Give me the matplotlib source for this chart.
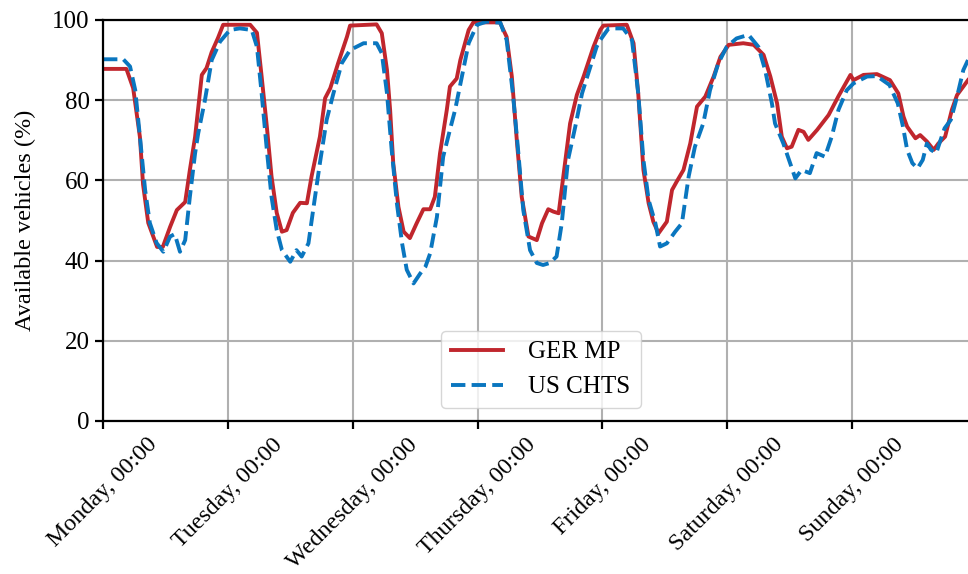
import matplotlib
matplotlib.use("Agg")
import matplotlib.pyplot as plt

# ---------- DATA (hours since Monday 00:00, available vehicles in %) ----------

ger_hours = [0, 4.5, 5.8, 7.1, 7.7, 8.7, 10.4, 11.5, 12.9, 14.2, 15.8, 16.7, 17.7, 19.0, 19.9,
             20.9, 22.1, 23.1, 28.3, 29.6, 30.5, 31.5, 32.4, 33.4, 34.4, 35.3, 36.5, 37.9,
             39.2, 40.1, 41.7, 42.7, 43.7, 45.2, 46.9, 47.5, 52.6, 53.6, 54.6, 55.2, 55.8,
             56.8, 57.8, 59.0, 60.3, 61.6, 62.9, 63.8, 64.8, 66.1, 66.7, 68.0, 68.7, 70.3,
             71.2, 76.3, 77.6, 78.6, 79.6, 80.5, 81.8, 83.4, 84.4, 85.6, 86.6, 87.6, 88.5,
             89.8, 91.1, 92.4, 94.3, 95.6, 96.2, 100.7, 102.0, 102.9, 103.9, 104.9, 105.8,
             106.8, 108.4, 109.4, 110.3, 111.6, 112.9, 114.2, 115.8, 117.4, 118.7, 120.3,
             123.1, 125.1, 127.0, 128.3, 129.6, 130.5, 131.5, 132.4, 133.7, 134.7, 135.6,
             137.3, 139.5, 141.4, 143.7, 144.3, 146.2, 148.8, 151.3, 152.9, 153.9, 154.6,
             156.2, 157.1, 158.4, 159.7, 160.6, 161.9, 163.2, 164.2, 165.4, 166.3]
ger_values = [87.8, 87.8, 83.0, 70.8, 59.0, 49.4, 43.4, 43.4, 48.4, 52.6, 54.6, 62.6, 70.8, 86.3,
              88.0, 92.0, 95.5, 98.8, 98.8, 96.8, 85.9, 73.4, 61.0, 51.9, 47.2, 47.6, 51.9,
              54.4, 54.3, 61.0, 70.9, 80.5, 83.0, 89.2, 95.8, 98.6, 98.9, 96.7, 87.5, 77.6,
              64.3, 53.4, 47.2, 45.6, 49.3, 52.8, 52.8, 55.9, 66.8, 77.6, 83.4, 85.4, 90.0,
              97.5, 99.4, 99.4, 95.8, 85.9, 69.3, 55.9, 46.0, 45.1, 49.3, 52.8, 52.2, 51.8,
              61.0, 74.2, 81.3, 85.9, 93.3, 97.5, 98.6, 98.8, 94.2, 81.7, 62.6, 54.3, 49.7,
              46.8, 49.7, 57.6, 59.7, 62.6, 69.2, 78.4, 80.9, 85.9, 90.8, 93.8, 94.2, 93.8,
              91.3, 85.9, 79.2, 70.9, 68.0, 68.4, 72.6, 72.1, 70.1, 72.6, 76.3, 81.0, 86.3,
              85.0, 86.3, 86.5, 85.0, 81.7, 75.9, 73.4, 70.5, 71.3, 69.7, 67.6, 69.2, 70.9,
              77.6, 81.3, 83.4, 85.0]

us_hours = [0, 3.9, 5.2, 6.2, 7.1, 8.1, 9.0, 10.3, 11.6, 12.9, 13.8, 14.8, 15.8, 16.7, 17.7,
            18.3, 19.6, 20.9, 22.5, 24.4, 26.3, 28.6, 29.6, 30.5, 31.5, 32.4, 33.4, 34.4, 36.0,
            37.2, 38.2, 39.5, 40.4, 41.7, 43.0, 44.3, 45.9, 47.5, 50.1, 52.6, 53.6, 54.6,
            55.5, 56.5, 57.5, 58.4, 59.7, 61.0, 62.0, 62.9, 64.2, 65.4, 66.7, 67.7, 69.0,
            70.3, 71.9, 73.8, 76.4, 77.6, 78.8, 79.8, 80.8, 82.1, 83.4, 84.6, 85.9, 87.2,
            88.2, 89.4, 90.8, 92.1, 93.3, 94.9, 95.6, 97.2, 100.0, 101.7, 102.9, 103.9, 104.9,
            106.2, 107.1, 108.4, 110.0, 111.3, 112.6, 113.8, 115.4, 116.7, 118.3, 119.9,
            121.8, 124.1, 126.0, 127.3, 128.6, 129.2, 130.8, 132.1, 133.1, 134.3, 135.9,
            137.2, 138.8, 140.1, 141.4, 143.0, 144.3, 146.9, 148.8, 151.2, 152.8, 153.8,
            154.6, 155.6, 156.6, 157.6, 158.4, 159.2, 160.2, 160.8, 161.8, 163.0, 164.2,
            165.4, 166.3]
us_values = [90.2, 90.2, 88.4, 82.5, 70.9, 57.6, 49.4, 44.4, 42.2, 46.0, 46.6, 42.2, 45.1, 55.9,
             66.7, 71.7, 80.0, 90.0, 94.6, 97.5, 97.9, 97.5, 93.3, 81.7, 67.6, 55.9, 47.6,
             42.6, 39.7, 42.6, 41.0, 44.3, 52.6, 64.3, 75.1, 81.7, 89.2, 92.5, 94.2, 94.2,
             91.7, 81.7, 67.6, 54.3, 44.3, 37.7, 34.3, 36.8, 38.5, 41.8, 50.9, 65.9, 72.6,
             77.6, 85.9, 94.2, 98.8, 99.6, 99.3, 95.0, 81.7, 67.6, 52.6, 42.6, 39.4, 38.9,
             39.4, 41.0, 49.3, 65.1, 73.4, 81.7, 86.7, 93.3, 95.0, 97.9, 97.9, 95.0, 81.7,
             65.1, 55.1, 49.3, 43.5, 44.3, 47.2, 49.3, 61.0, 68.4, 74.2, 82.5, 89.2, 93.3,
             95.4, 96.3, 93.3, 87.5, 79.2, 74.2, 69.2, 64.3, 60.5, 62.6, 61.8, 66.8, 65.9,
             70.9, 77.6, 82.5, 84.2, 85.9, 86.0, 83.8, 79.2, 73.4, 67.6, 64.3, 63.0, 65.1,
             69.2, 67.6, 66.8, 69.2, 73.0, 75.1, 80.9, 87.5, 90.0]

day_ticks = [0, 24, 48, 72, 96, 120, 144]
day_labels = ['Monday, 00:00', 'Tuesday, 00:00', 'Wednesday, 00:00', 'Thursday, 00:00',
              'Friday, 00:00', 'Saturday, 00:00', 'Sunday, 00:00']

# ---------- PLOT ----------

plt.rcParams['font.family'] = ['Liberation Serif', 'DejaVu Serif']
plt.rcParams['font.size'] = 18

fig = plt.figure(figsize=(9.68, 5.74), dpi=100)
ax = fig.add_axes([0.1064, 0.2666, 0.8936, 0.6986])

ax.plot(ger_hours, ger_values, color='#c0262d', linewidth=2.8, label='GER MP')
ax.plot(us_hours, us_values, color='#0a76bf', linewidth=2.8, linestyle='--', label='US CHTS')

ax.set_xlim(0, 166.3)
ax.set_ylim(0, 100)
ax.set_yticks([0, 20, 40, 60, 80, 100])
ax.set_xticks(day_ticks)
ax.set_xticklabels(day_labels, rotation=45, fontsize=17.3)
ax.set_ylabel('Available vehicles (%)', fontsize=17.5, labelpad=12)

ax.grid(True, color='#b0b0b0', linewidth=1.5)
ax.set_axisbelow(True)
ax.spines['right'].set_visible(False)
for s in ['left', 'bottom', 'top']:
    ax.spines[s].set_linewidth(1.6)
ax.tick_params(direction='out', length=6, width=1.6)

ax.legend(loc='lower center', bbox_to_anchor=(0.506, 0.0), handlelength=2.1,
          handletextpad=1.0, fontsize=18)

fig.savefig('out.png', dpi=100)
